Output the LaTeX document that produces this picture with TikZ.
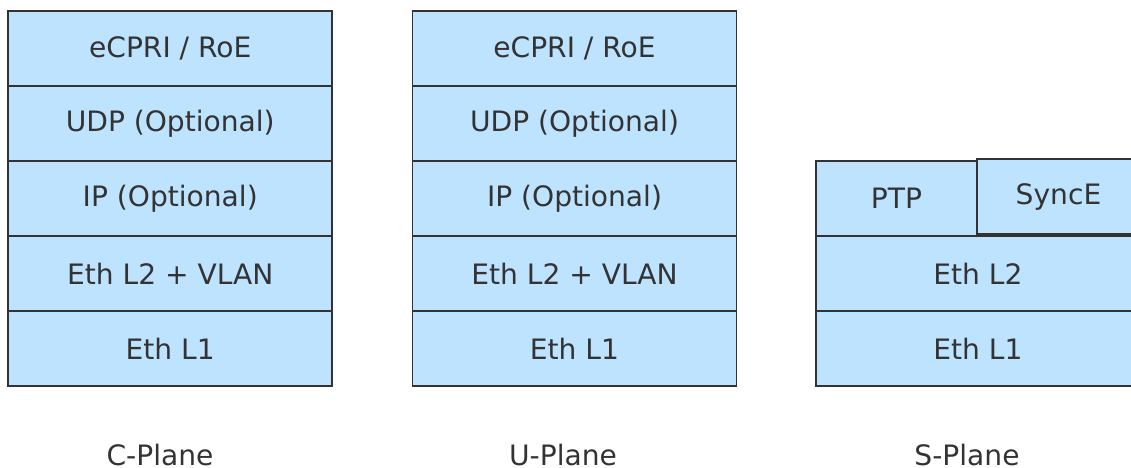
\documentclass[tikz,border=0pt]{standalone}
\usepackage{fontspec}
\setmainfont{DejaVu Sans}
\definecolor{layerblue}{HTML}{BDE3FF}
\definecolor{edgegray}{HTML}{333333}
\begin{document}
\begin{tikzpicture}[
    layer/.style={draw=edgegray, line width=1.1pt, fill=layerblue,
      minimum width=6.48cm, minimum height=1.5cm, inner sep=0pt,
      text=edgegray, font=\fontsize{16}{19}\selectfont},
    half/.style={layer, minimum width=3.22cm},
    planelabel/.style={anchor=base, text=edgegray,
      font=\fontsize{16}{19}\selectfont}
  ]
  \useasboundingbox (0,0) rectangle (22.62,-9.36);
  % C-Plane
  \draw
    (3.405,-0.97) node[layer] (c5){eCPRI / RoE}
    (3.405,-2.47) node[layer] (c4){UDP (Optional)}
    (3.405,-3.97) node[layer] (c3){IP (Optional)}
    (3.405,-5.47) node[layer] (c2){Eth L2 + VLAN}
    (3.405,-6.97) node[layer] (c1){Eth L1};
  % U-Plane
  \draw
    (11.49,-0.97) node[layer] (u5){eCPRI / RoE}
    (11.49,-2.47) node[layer] (u4){UDP (Optional)}
    (11.49,-3.97) node[layer] (u3){IP (Optional)}
    (11.49,-5.47) node[layer] (u2){Eth L2 + VLAN}
    (11.49,-6.97) node[layer] (u1){Eth L1};
  % S-Plane
  \draw
    (17.93,-3.97) node[half] (ptp){PTP}
    (21.17,-3.93) node[half, minimum width=3.26cm] (synce){SyncE}
    (19.56,-5.47) node[layer] (s2){Eth L2}
    (19.56,-6.97) node[layer] (s1){Eth L1};
  % plane names
  \node[planelabel] (cname) at (3.20,-9.32) {C-Plane};
  \node[planelabel] (uname) at (11.26,-9.32) {U-Plane};
  \node[planelabel] (sname) at (19.34,-9.32) {S-Plane};
\end{tikzpicture}
\end{document}
